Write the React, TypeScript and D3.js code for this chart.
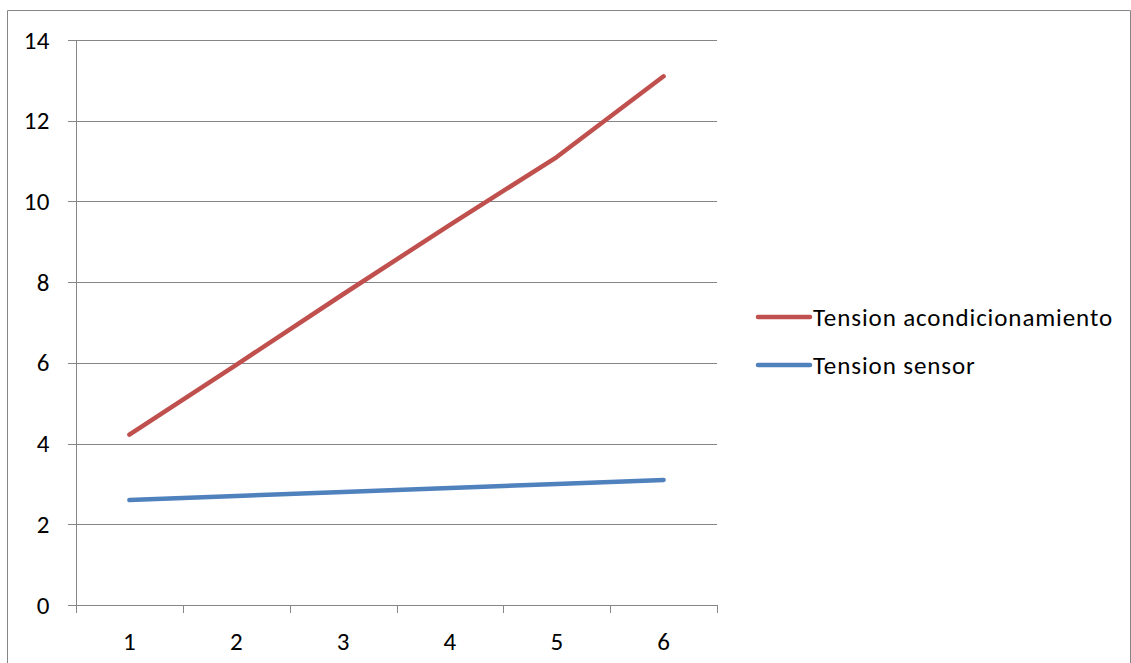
import React from "react";
import * as d3 from "d3";

const categories = ["1", "2", "3", "4", "5", "6"];
const tensionAcond = [4.22, 5.95, 7.7, 9.42, 11.1, 13.1];
const tensionSensor = [2.6, 2.7, 2.8, 2.9, 3.0, 3.1];
const yTicks = [0, 2, 4, 6, 8, 10, 12, 14];
const seriesNames = ["Tension acondicionamiento", "Tension sensor"];
const seriesColors = ["#C0504D", "#4F81BD"];

export default function App() {
  const W = 1131, H = 663;
  const left = 76, right = 717, top = 40, bottom = 605;
  const x = d3.scaleBand<string>().domain(categories).range([left, right]);
  const y = d3.scaleLinear().domain([0, 14]).range([bottom, top]);
  const line = d3
    .line<number>()
    .x((_, i) => (x(categories[i]) as number) + x.bandwidth() / 2)
    .y((d) => y(d));
  const font = "Carlito, Calibri, 'Liberation Sans', Arial, sans-serif";
  const series = [tensionAcond, tensionSensor];
  const legendY = [317, 365];
  const boundaries = categories.map((c) => x(c) as number).concat([right]);
  return (
    <svg
      width={W}
      height={H}
      style={{ position: "absolute", left: 0, top: 0, background: "#fff" }}
      fontFamily={font}
    >
      {/* outer border */}
      <path d={`M7.5,${H} V10.5 H1130.5 V${H}`} fill="none" stroke="#868686" strokeWidth={1} />
      {/* gridlines */}
      {yTicks.map((t) => (
        <line key={t} x1={68} x2={right} y1={Math.round(y(t)) + 0.5} y2={Math.round(y(t)) + 0.5} stroke="#868686" strokeWidth={1} />
      ))}
      {/* y axis */}
      <line x1={left + 0.5} x2={left + 0.5} y1={top} y2={bottom} stroke="#868686" />
      {/* x ticks */}
      {boundaries.map((b, i) => (
        <line key={i} x1={Math.round(b) + 0.5} x2={Math.round(b) + 0.5} y1={bottom} y2={bottom + 8} stroke="#868686" />
      ))}
      {yTicks.map((t) => (
        <text key={t} x={50} y={y(t)} textAnchor="end" dominantBaseline="central" fontSize={25} fill="#000" letterSpacing={0.5}>
          {t}
        </text>
      ))}
      {categories.map((c) => (
        <text key={c} x={(x(c) as number) + x.bandwidth() / 2} y={641} textAnchor="middle" dominantBaseline="central" fontSize={25} fill="#000">
          {c}
        </text>
      ))}
      {series.map((s, i) => (
        <path key={i} d={line(s) as string} fill="none" stroke={seriesColors[i]} strokeWidth={4.5} strokeLinecap="round" strokeLinejoin="round" />
      ))}
      {seriesNames.map((n, i) => (
        <g key={n}>
          <line x1={758} x2={810} y1={legendY[i]} y2={legendY[i]} stroke={seriesColors[i]} strokeWidth={4.5} strokeLinecap="round" />
          <text x={813} y={legendY[i]} dominantBaseline="central" fontSize={25} fill="#000" letterSpacing={0.9}>
            {n}
          </text>
        </g>
      ))}
    </svg>
  );
}
